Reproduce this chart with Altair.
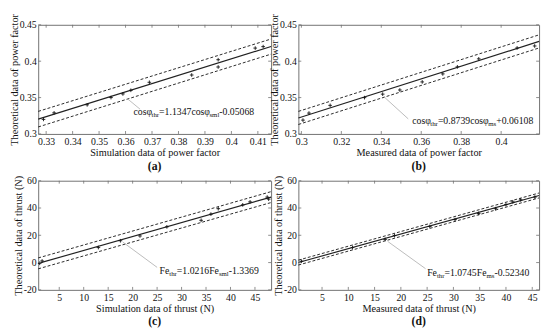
import altair as alt
import pandas as pd

FONT = "Liberation Serif"
FRAME = "#707070"
INK = "#111111"

# ---------------- data ----------------
# (a) simulation vs theoretical power factor
a_x = [0.329, 0.333, 0.3455, 0.3545, 0.359, 0.362, 0.369, 0.385, 0.395, 0.395, 0.409, 0.412]
a_y = [0.320, 0.329, 0.340, 0.350, 0.355, 0.360, 0.371, 0.381, 0.402, 0.392, 0.418, 0.420]
a_fit_x = [0.327, 0.415]
a_fit_y = [0.3204, 0.4202]
a_up = [0.3310, 0.4305]
a_lo = [0.3096, 0.4097]
a_xticks = [0.33, 0.34, 0.35, 0.36, 0.37, 0.38, 0.39, 0.4, 0.41]
a_yticks = [0.3, 0.35, 0.4, 0.45]
a_lead_x = [0.3605, 0.3655]
a_lead_y = [0.3490, 0.3340]
a_eq = [0.3630, 0.3295]

# (b) measured vs theoretical power factor
b_x = [0.3008, 0.3038, 0.3144, 0.3316, 0.3407, 0.3493, 0.3605, 0.3708, 0.3781, 0.3888, 0.4080, 0.4168]
b_y = [0.319, 0.3287, 0.3393, 0.3499, 0.3547, 0.3604, 0.3715, 0.3825, 0.3922, 0.4032, 0.4182, 0.4209]
b_fit_x = [0.2985, 0.419]
b_fit_y = [0.3220, 0.4272]
b_up = [0.3310, 0.4362]
b_lo = [0.3130, 0.4182]
b_xticks = [0.3, 0.32, 0.34, 0.36, 0.38, 0.4]
b_yticks = [0.3, 0.35, 0.4, 0.45]
b_lead_x = [0.3415, 0.3535]
b_lead_y = [0.3507, 0.3207]
b_eq = [0.3555, 0.3176]

# (c) simulation vs theoretical thrust
c_x = [1.0, 1.5, 13.0, 17.5, 21.5, 27.0, 34.0, 36.0, 37.5, 42.5, 44.0, 47.5, 47.8]
c_y = [-0.5, 1.2, 11.0, 16.0, 19.5, 26.2, 31.0, 35.5, 39.5, 42.3, 44.5, 48.0, 46.5]
c_fit_x = [0.7, 48.3]
c_fit_y = [-0.62, 48.0]
c_up = [3.4, 52.0]
c_lo = [-4.6, 44.0]
c_xticks = [5, 10, 15, 20, 25, 30, 35, 40, 45]
c_yticks = [-20, 0, 20, 40, 60]
c_lead_x = [18.0, 25.0]
c_lead_y = [15.0, -3.5]
c_eq = [25.5, -6.5]

# (d) measured vs theoretical thrust
d_x = [1.1, 10.8, 17.0, 18.8, 25.5, 30.3, 34.8, 38.0, 40.0, 41.3, 42.8, 45.5]
d_y = [1.0, 11.0, 17.0, 19.8, 26.5, 31.5, 36.0, 39.5, 42.5, 44.5, 46.0, 48.0]
d_fit_x = [0.5, 46.3]
d_fit_y = [0.01, 49.2]
d_up = [1.8, 51.0]
d_lo = [-1.8, 47.4]
d_xticks = [5, 10, 15, 20, 25, 30, 35, 40, 45]
d_yticks = [-20, 0, 20, 40, 60]
d_lead_x = [17.5, 24.7]
d_lead_y = [15.5, -4.5]
d_eq = [25.0, -7.5]

# equation pieces: (text, is_subscript)
a_eqs = [("cosφ", 0), ("thr", 1), ("=1.1347cosφ", 0), ("sml", 1), ("-0.05068", 0)]
b_eqs = [("cosφ", 0), ("thr", 1), ("=0.8739cosφ", 0), ("ms", 1), ("+0.06108", 0)]
c_eqs = [("Fe", 0), ("thr", 1), ("=1.0216Fe", 0), ("sml", 1), ("-1.3369", 0)]
d_eqs = [("Fe", 0), ("thr", 1), ("=1.0745Fe", 0), ("ms", 1), ("-0.52340", 0)]

# ---------------- helpers ----------------
WID = {'c': .444, 'o': .5, 's': .389, 'φ': .52, 't': .278, 'h': .5, 'r': .333,
       'm': .778, 'l': .278, 'e': .444, 'F': .556, '=': .564, '.': .25, '-': .333, '+': .564}
EQ_SIZE = 10
SUB_SIZE = 7


def tw(s, size):
    return sum(WID.get(ch, .5) for ch in s) * size


PLUS = "M-1,0L1,0M0,-1L0,1"


def panel(px, py, fx, fy, up, lo, xt, yt, lx, ly, eq, segs, xtitle, ytitle, tag, w, h):
    xs = alt.Scale(domain=[fx[0], fx[1]], nice=False, zero=False)
    ys = alt.Scale(domain=[yt[0], yt[-1]], nice=False, zero=False)
    ax_common = dict(ticks=False, domain=False, grid=False,
                     labelFont=FONT, labelFontSize=10, labelColor=INK,
                     titleFont=FONT, titleFontSize=10.5, titleFontWeight="normal",
                     titleColor=INK, labelExpr="'' + datum.value")
    xaxis = alt.Axis(values=xt, title=xtitle, labelPadding=3, titlePadding=1, **ax_common)
    yaxis = alt.Axis(values=yt, title=ytitle, labelPadding=2, titlePadding=0, **ax_common)

    pts = pd.DataFrame({"x": px, "y": py})
    fit = pd.DataFrame({"x": fx, "y": fy})
    band = pd.DataFrame({"x": fx + fx, "y": up + lo, "k": ["up", "up", "lo", "lo"]})
    xtd = pd.DataFrame({"x": xt})
    ytd = pd.DataFrame({"y": yt})
    lead = pd.DataFrame({"x": [lx[0]], "x2": [lx[1]], "y": [ly[0]], "y2": [ly[1]]})
    eqd = pd.DataFrame({"x": [eq[0]], "y": [eq[1]]})

    X = alt.X("x:Q", scale=xs, axis=xaxis)
    Y = alt.Y("y:Q", scale=ys, axis=yaxis)

    layers = []
    layers.append(alt.Chart(band).mark_line(color=INK, strokeWidth=0.9, strokeDash=[3, 2])
                  .encode(x=X, y=Y, detail="k:N"))
    layers.append(alt.Chart(fit).mark_line(color="#222", strokeWidth=1.2)
                  .encode(x=X, y=Y))
    layers.append(alt.Chart(lead).mark_rule(color="#aaaaaa", strokeWidth=0.8)
                  .encode(x=X, x2="x2", y=Y, y2="y2"))
    layers.append(alt.Chart(pts).mark_point(shape=PLUS, size=14, strokeWidth=0.9,
                                            color=INK, filled=False, opacity=1)
                  .encode(x=X, y=Y))
    # inward ticks on all four sides
    layers.append(alt.Chart(xtd).mark_rule(color=FRAME, strokeWidth=0.8)
                  .encode(x=X, y=alt.value(h), y2=alt.value(h - 3)))
    layers.append(alt.Chart(xtd).mark_rule(color=FRAME, strokeWidth=0.8)
                  .encode(x=X, y=alt.value(0), y2=alt.value(3)))
    layers.append(alt.Chart(ytd).mark_rule(color=FRAME, strokeWidth=0.8)
                  .encode(y=Y, x=alt.value(0), x2=alt.value(3)))
    layers.append(alt.Chart(ytd).mark_rule(color=FRAME, strokeWidth=0.8)
                  .encode(y=Y, x=alt.value(w - 3), x2=alt.value(w)))
    # equation with subscripts
    off = 0.0
    for txt, sub in segs:
        size = SUB_SIZE if sub else EQ_SIZE
        layers.append(alt.Chart(eqd).mark_text(text=txt, font=FONT, fontSize=size, color=INK,
                                               align="left", baseline="middle",
                                               dx=off, dy=3 if sub else 0)
                      .encode(x=X, y=Y))
        off += tw(txt, size)

    return alt.layer(*layers).properties(
        width=w, height=h,
        title=alt.TitleParams(tag, orient="bottom", font=FONT, fontSize=12,
                              fontWeight="bold", color=INK, offset=3))


W_A, W_B, H = 239, 247, 112

pa = panel(a_x, a_y, a_fit_x, a_fit_y, a_up, a_lo, a_xticks, a_yticks, a_lead_x, a_lead_y, a_eq,
           a_eqs, "Simulation data of power factor", "Theoretical data of power factor", "(a)", W_A, H)
pb = panel(b_x, b_y, b_fit_x, b_fit_y, b_up, b_lo, b_xticks, b_yticks, b_lead_x, b_lead_y, b_eq,
           b_eqs, "Measured data of power factor", "Theoretical data of power factor", "(b)", W_B, H)
pc = panel(c_x, c_y, c_fit_x, c_fit_y, c_up, c_lo, c_xticks, c_yticks, c_lead_x, c_lead_y, c_eq,
           c_eqs, "Simulation data of thrust (N)", "Theoretical data of thrust (N)", "(c)", W_A, H)
pd_ = panel(d_x, d_y, d_fit_x, d_fit_y, d_up, d_lo, d_xticks, d_yticks, d_lead_x, d_lead_y, d_eq,
            d_eqs, "Measured data of thrust (N)", "Theoretical data of thrust (N)", "(d)", W_B, H)

chart = alt.concat(pa, pb, pc, pd_, columns=2, spacing={"row": 48, "column": 28},
                   bounds="flush").properties(
    padding={"left": 0, "top": 0, "right": 0, "bottom": 0}
).configure_view(stroke=FRAME, strokeWidth=1)

chart.save("out.html", embed_options={"renderer": "svg", "actions": False})
